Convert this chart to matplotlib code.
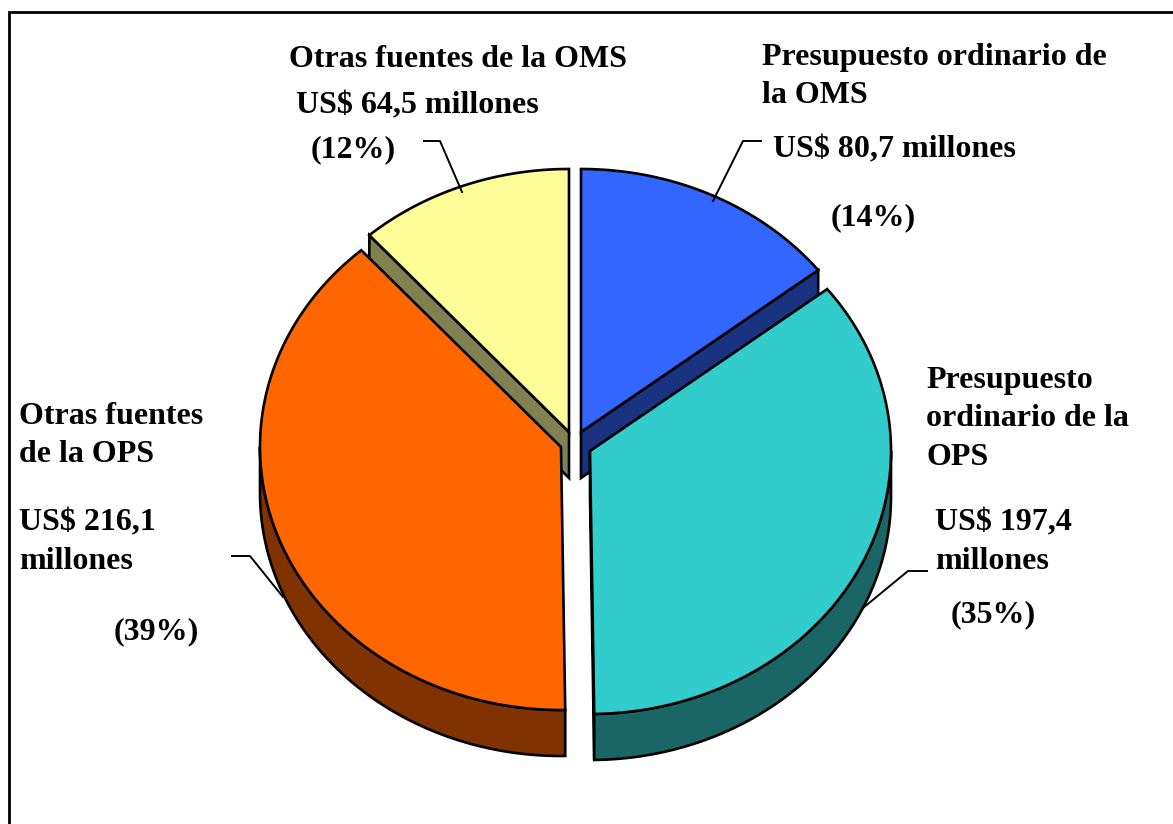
import numpy as np
import matplotlib
matplotlib.use("Agg")
import matplotlib.pyplot as plt

# Data, clockwise from the top
categories = ["Presupuesto ordinario de la OMS", "Presupuesto ordinario de la OPS",
              "Otras fuentes de la OPS", "Otras fuentes de la OMS"]
values = [80.7, 197.4, 216.1, 64.5]
top_colors = ["#3366FF", "#33CCCC", "#FF6600", "#FFFF99"]
side_colors = ["#1A3380", "#1A6666", "#803300", "#808050"]

W, H = 1173, 824
RX, RY, DEPTH = 301, 263, 46
apex = [(581, 432), (590, 451), (561, 447), (569, 432)]
draw_order = [3, 0, 2, 1]

fig = plt.figure(figsize=(W / 100, H / 100), dpi=100, facecolor="white")
ax = fig.add_axes([0, 0, 1, 1])
ax.set_xlim(0, W)
ax.set_ylim(H, 0)
ax.axis("off")

frac = np.cumsum([0] + values) / sum(values) * 360
LW = 1.9


def pt(c, a, dy=0):
    r = np.radians(a)
    return c[0] + RX * np.sin(r), c[1] - RY * np.cos(r) + dy


def arc(c, a0, a1, dy=0):
    t = np.linspace(a0, a1, max(int(abs(a1 - a0)) * 2, 2))
    return pt(c, t, dy)


for i in draw_order:
    a0, a1 = frac[i], frac[i + 1]
    c = apex[i]
    # walls of the two cuts
    for a, show in ((a0, 180 < a0 < 360), (a1, 0 < a1 < 180)):
        if show:
            x, y = pt(c, a)
            ax.fill([c[0], x, x, c[0]], [c[1], y, y + DEPTH, c[1] + DEPTH],
                    fc=side_colors[i], ec="black", lw=LW, joinstyle="miter")
    # outer rim on the front half
    lo, hi = max(a0, 90), min(a1, 270)
    if hi > lo:
        xt, yt = arc(c, lo, hi)
        xb, yb = arc(c, hi, lo, DEPTH)
        ax.fill(np.r_[xt, xb], np.r_[yt, yb], fc=side_colors[i], ec="black",
                lw=LW, joinstyle="miter")
    # top face
    xa, ya = arc(c, a0, a1)
    ax.fill(np.r_[c[0], xa], np.r_[c[1], ya], fc=top_colors[i], ec="black",
            lw=LW, joinstyle="miter")

# keep painting in draw order
for z, art in enumerate(ax.patches):
    art.set_zorder(z + 2)

leaders = [
    ([424, 440, 462], [141, 141, 192]),
    ([761, 743, 713], [141, 141, 201]),
    ([927, 908, 863], [571, 571, 608]),
    ([232, 250, 283], [556, 556, 597]),
]
for lx, ly in leaders:
    ax.plot(lx, ly, color="black", lw=1.4, zorder=50)

labels = [
    ("Otras fuentes de la OMS", 289, 67), ("US$ 64,5 millones", 296, 113), ("(12%)", 311, 157),
    ("Presupuesto ordinario de", 762, 65), ("la OMS", 762, 103),
    ("US$ 80,7 millones", 773, 157), ("(14%)", 831, 225),
    ("Presupuesto", 926, 388), ("ordinario de la", 926, 426), ("OPS", 926, 465),
    ("US$ 197,4", 935, 530), ("millones", 935, 569), ("(35%)", 951, 622),
    ("Otras fuentes", 19, 424), ("de la OPS", 19, 462),
    ("US$ 216,1", 19, 530), ("millones", 19, 569), ("(39%)", 114, 639),
]
for s, x, y in labels:
    ax.text(x, y, s, family="Liberation Serif", weight="bold", fontsize=23,
            ha="left", va="baseline", color="black", zorder=60)

# Frame (open at the right and bottom)
ax.plot([9, 9, W], [H, 12, 12], color="black", lw=2, solid_joinstyle="miter",
        solid_capstyle="butt", zorder=70)

fig.savefig("out.png", dpi=100, facecolor="white")
